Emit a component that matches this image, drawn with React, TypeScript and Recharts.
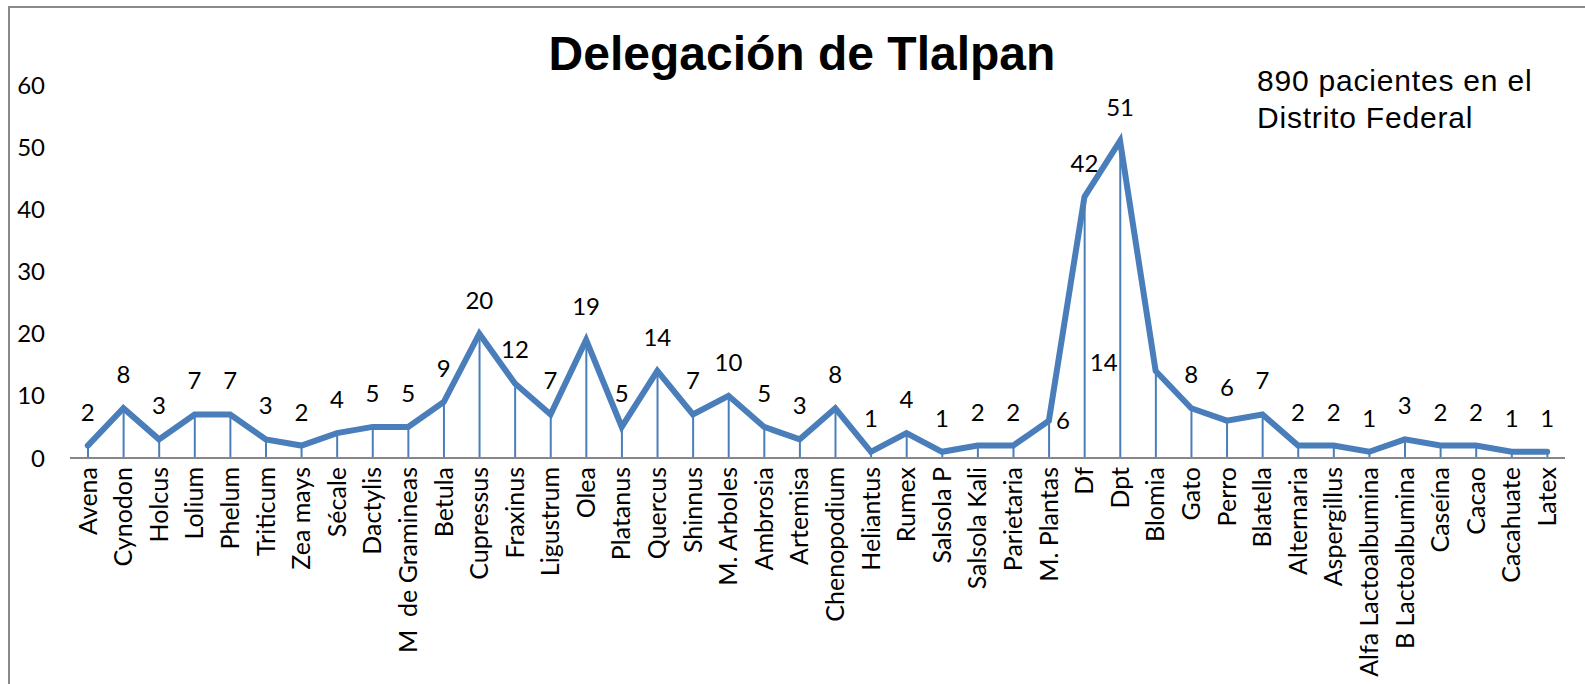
import React from "react";
import {
  ComposedChart,
  Line,
  Bar,
  XAxis,
  YAxis,
  LabelList,
} from "recharts";

const categories = [
  "Avena", "Cynodon", "Holcus", "Lolium", "Phelum", "Triticum", "Zea mays",
  "Sécale", "Dactylis", "M  de Gramineas", "Betula", "Cupressus", "Fraxinus",
  "Ligustrum", "Olea", "Platanus", "Quercus", "Shinnus", "M. Arboles",
  "Ambrosia", "Artemisa", "Chenopodium", "Heliantus", "Rumex", "Salsola P",
  "Salsola Kali", "Parietaria", "M. Plantas", "Df", "Dpt", "Blomia", "Gato",
  "Perro", "Blatella", "Alternaria", "Aspergillus", "Alfa Lactoalbumina",
  "B Lactoalbumina", "Caseína", "Cacao", "Cacahuate", "Latex",
];

const pacientes = [
  2, 8, 3, 7, 7, 3, 2, 4, 5, 5, 9, 20, 12, 7, 19, 5, 14, 7, 10, 5, 3, 8, 1, 4,
  1, 2, 2, 6, 42, 51, 14, 8, 6, 7, 2, 2, 1, 3, 2, 2, 1, 1,
];

const yTicks = [0, 10, 20, 30, 40, 50, 60];

const BLUE = "#4a7ebb";
const FONT = "Lato, 'Noto Sans', sans-serif";

const data = categories.map((name, i) => ({ name, value: pacientes[i] }));

// labels that Excel moved away from the default "above" spot
const labelShift: Record<string, [number, number]> = {
  "M. Plantas": [14, 33],
  Blomia: [-52, 25],
};

function CategoryTick(props: any) {
  const { x, y, payload } = props;
  const ty = y + 1;
  return (
    <text
      x={x}
      y={ty}
      transform={`rotate(-90, ${x}, ${ty})`}
      textAnchor="end"
      dy="0.35em"
      fontFamily={FONT}
      fontSize={25}
      fill="#000"
    >
      {payload.value.replace(/ {2}/g, "\u00a0\u00a0")}
    </text>
  );
}

function ValueLabel(props: any) {
  const { x, y, value, index } = props;
  const shift = labelShift[categories[index]] || [0, 0];
  return (
    <text
      x={x + shift[0]}
      y={y - 25 + shift[1]}
      textAnchor="middle"
      fontFamily={FONT}
      fontSize={24}
      fill="#000"
    >
      {value}
    </text>
  );
}

export default function App() {
  return (
    <div
      style={{
        position: "fixed",
        left: 8,
        top: 6,
        width: 1600,
        height: 700,
        borderLeft: "2px solid #898989",
        borderTop: "2px solid #898989",
        boxSizing: "border-box",
        background: "#fff",
      }}
    >
      <div
        style={{
          position: "absolute",
          left: 0,
          top: 22,
          width: 1584,
          textAlign: "center",
          fontFamily: "'Liberation Sans', Arial, sans-serif",
          fontWeight: "bold",
          fontSize: 48,
          lineHeight: "48px",
          color: "#000",
          whiteSpace: "nowrap",
        }}
      >
        Delegación de Tlalpan
      </div>
      <div
        style={{
          position: "absolute",
          left: 1247,
          top: 54,
          fontFamily: "'Liberation Sans', Arial, sans-serif",
          fontSize: 30,
          lineHeight: "37px",
          letterSpacing: 0.8,
          color: "#000",
          whiteSpace: "nowrap",
        }}
      >
        890 pacientes en el
        <br />
        Distrito Federal
      </div>
      <ComposedChart
        width={1567}
        height={676}
        data={data}
        margin={{ top: 77, right: 12, bottom: 0, left: 0 }}
      >
        <XAxis
          dataKey="name"
          interval={0}
          height={226}
          tickLine={false}
          axisLine={{ stroke: "#878787", strokeWidth: 2 }}
          tick={<CategoryTick />}
        />
        <YAxis
          domain={[0, 60]}
          ticks={yTicks}
          width={60}
          axisLine={false}
          tickLine={false}
          tickSize={0}
          tickMargin={25}
          tick={{ fontFamily: FONT, fontSize: 24, fill: "#000" }}
        />
        <Bar
          dataKey="value"
          barSize={2}
          fill={BLUE}
          isAnimationActive={false}
        />
        <Line
          type="linear"
          dataKey="value"
          stroke={BLUE}
          strokeWidth={6}
          strokeLinecap="round"
          dot={false}
          activeDot={false}
          isAnimationActive={false}
        >
          <LabelList dataKey="value" content={<ValueLabel />} />
        </Line>
      </ComposedChart>
    </div>
  );
}
